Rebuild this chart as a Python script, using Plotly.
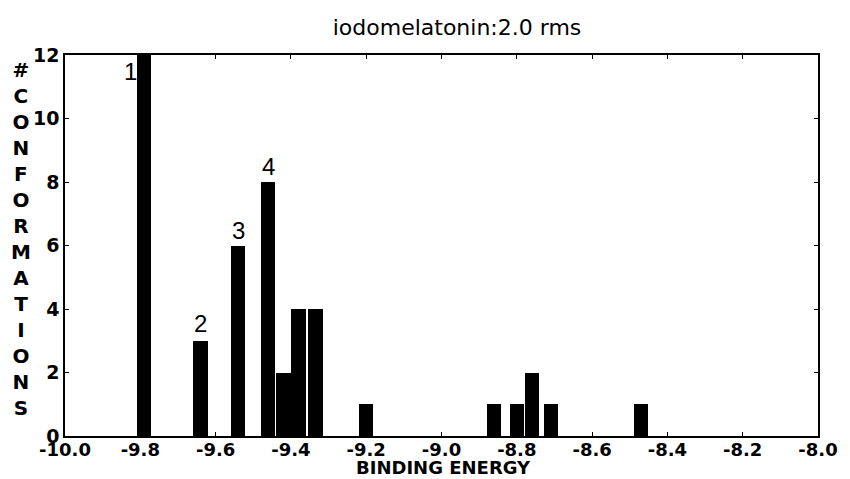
import plotly.graph_objects as go

# Data
bin_centers = [-9.79, -9.64, -9.54, -9.46, -9.42, -9.38, -9.335, -9.20,
               -8.86, -8.80, -8.76, -8.71, -8.47]
counts = [12, 3, 6, 8, 2, 4, 4, 1, 1, 1, 2, 1, 1]

x_tick_vals = [-10.0, -9.8, -9.6, -9.4, -9.2, -9.0, -8.8, -8.6, -8.4, -8.2, -8.0]
x_tick_text = ["-10.0", "-9.8", "-9.6", "-9.4", "-9.2", "-9.0", "-8.8", "-8.6", "-8.4", "-8.2", "-8.0"]
y_tick_vals = [0, 2, 4, 6, 8, 10, 12]

cluster_labels = ["1", "2", "3", "4"]
cluster_bar_index = [0, 1, 2, 3]

title_text = "iodomelatonin:2.0 rms"
x_title = "BINDING ENERGY"
y_title = "#CONFORMATIONS"

FONT = "Liberation Sans, Arial, sans-serif"
WIDE = "DejaVu Sans, sans-serif"

fig = go.Figure()
fig.add_trace(go.Bar(
    x=bin_centers, y=counts, width=0.038,
    marker=dict(color="black", line=dict(width=0)),
    showlegend=False,
))

annotations = []
# cluster rank labels
offsets = {0: dict(xanchor="right", yanchor="top", xshift=2, yshift=-1),
           1: dict(xanchor="center", yanchor="bottom", xshift=0, yshift=2),
           2: dict(xanchor="center", yanchor="bottom", xshift=0, yshift=0),
           3: dict(xanchor="center", yanchor="bottom", xshift=0, yshift=0)}
for lbl, idx in zip(cluster_labels, cluster_bar_index):
    o = offsets[idx]
    annotations.append(dict(
        x=bin_centers[idx] - (0.019 if idx == 0 else 0), y=counts[idx],
        xref="x", yref="y", text=lbl, showarrow=False,
        font=dict(family=FONT, size=24, color="black"), **o))

# stacked vertical y title
annotations.append(dict(
    x=-0.059, y=0.518, xref="paper", yref="paper",
    text="<br>".join(list(y_title)), showarrow=False,
    xanchor="center", yanchor="middle", align="center",
    font=dict(family=WIDE, size=20, color="black", weight="bold")))

# x title
annotations.append(dict(
    x=0.5026, y=-0.082, xref="paper", yref="paper",
    text=x_title, showarrow=False, xanchor="center", yanchor="middle",
    font=dict(family=WIDE, size=18, color="black", weight="bold")))

fig.update_layout(
    width=850, height=479,
    margin=dict(l=65, r=25, t=55, b=43),
    paper_bgcolor="white", plot_bgcolor="white",
    title=dict(text=title_text, x=457 / 850, y=1 - 27 / 479,
               xanchor="center", yanchor="middle",
               font=dict(family=WIDE, size=22, color="black")),
    annotations=annotations,
    bargap=0,
    xaxis=dict(range=[-10.0, -8.0], tickvals=x_tick_vals, ticktext=x_tick_text,
               ticks="inside", ticklen=4, tickwidth=1, tickcolor="black",
               showline=True, linecolor="black", linewidth=1.5, mirror="ticks",
               showgrid=False, zeroline=False, ticklabelstandoff=-3,
               tickfont=dict(family=WIDE, size=18, color="black", weight="bold")),
    yaxis=dict(range=[0, 12], tickvals=y_tick_vals,
               ticks="inside", ticklen=4, tickwidth=1, tickcolor="black",
               showline=True, linecolor="black", linewidth=1.5, mirror="ticks",
               showgrid=False, zeroline=False,
               tickfont=dict(family=WIDE, size=19, color="black", weight="bold")),
)

fig.write_html("out.html")
